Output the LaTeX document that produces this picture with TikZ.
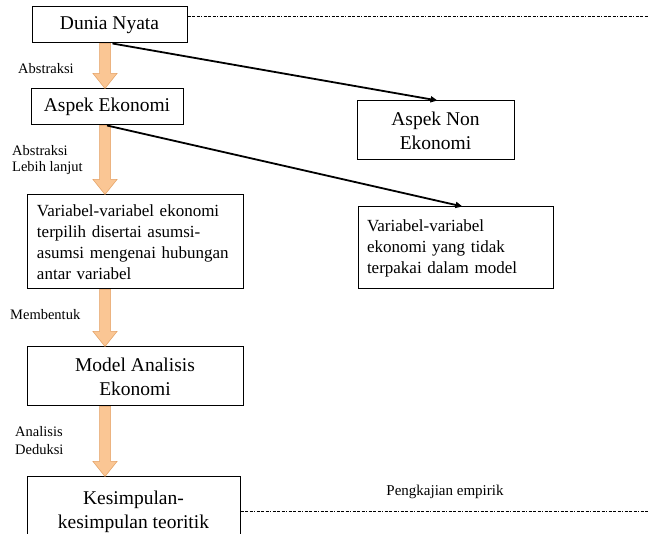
\documentclass[tikz,border=0pt]{standalone}
\usepackage{fontspec}
\setmainfont{Liberation Serif}
\usetikzlibrary{arrows.meta,calc}
\definecolor{peach}{RGB}{250,198,148}
\definecolor{peachedge}{RGB}{228,160,98}
\tikzset{
  box/.style={draw=black, line width=1pt, inner sep=0pt, align=center,
     font=\fontsize{19.5}{24}\selectfont},
  lbox/.style={draw=black, line width=1pt, inner xsep=10pt, inner ysep=0pt, align=left,
     font=\fontsize{17}{21}\selectfont},
  lbl/.style={anchor=west, inner sep=0pt, align=left, font=\fontsize{14.5}{16.5}\selectfont},
  blk/.style={line width=1.8pt, -{Triangle[length=7pt,width=6pt]}},
  dsh/.style={line width=1pt, dash pattern=on 3pt off 1.5pt on 3pt off 1.5pt on 3pt off 1.5pt on 1pt off 1.5pt},
  orng/.style={fill=peach, draw=peachedge, line width=0.5pt}
}
\newcommand{\blockarr}[2]{%
  \filldraw[orng] let \p1=(#1), \p2=(#2) in
    (\x1-5.5pt,\y1) -- (\x1+5.5pt,\y1) -- (\x1+5.5pt,\y2+15pt) -- (\x1+12pt,\y2+15pt)
    -- (\x1,\y2) -- (\x1-12pt,\y2+15pt) -- (\x1-5.5pt,\y2+15pt) -- cycle;}
\begin{document}
\begin{tikzpicture}[x=1pt,y=-1pt]
\clip (0,0) rectangle (649,534);
\fill[white] (0,0) rectangle (649,534);
% boxes
\node[box, minimum width=155pt, minimum height=36pt] (d1) at (109.5,25) {Dunia Nyata};
\node[box, minimum width=152pt, minimum height=36pt] (d2) at (107,107) {Aspek Ekonomi};
\node[box, minimum width=157pt, minimum height=59pt] (n1) at (435.5,130.5) {Aspek Non\\Ekonomi};
\node[lbox, minimum width=216pt, minimum height=94pt, text width=196pt] (d3) at (135,242)
  {Variabel-variabel ekonomi\\terpilih disertai asumsi-\\asumsi mengenai hubungan\\antar variabel};
\node[lbox, inner xsep=9pt, minimum width=195pt, minimum height=82pt, text width=177pt] (v2) at (455.5,248)
  {Variabel-variabel\\ekonomi yang tidak\\terpakai dalam model};
\node[box, minimum width=216pt, minimum height=59pt] (d4) at (135,376.5) {Model Analisis\\Ekonomi};
\node[box, minimum width=213pt, minimum height=70pt] (d5) at (133.5,512) {Kesimpulan-\\kesimpulan teoritik};
% arrow axis
\coordinate (ax) at (105,0);
\blockarr{ax |- d1.south}{ax |- d2.north}
\blockarr{ax |- d2.south}{ax |- d3.north}
\blockarr{ax |- d3.south}{ax |- d4.north}
\blockarr{ax |- d4.south}{ax |- d5.north}
% black arrows
\draw[blk] ([xshift=3pt]d1.south) -- ([xshift=2pt]n1.north);
\draw[blk] (d2.south) -- ([xshift=7pt]v2.north);
% dashed lines
\coordinate (t1) at (649,17);
\coordinate (t2) at (649,512);
\draw[dsh] (d1.east |- t1) -- (t1);
\draw[dsh] (d5.east |- t2) -- (t2);
% labels
\node[lbl] (l1) at (18,69) {Abstraksi};
\node[lbl] (l2) at (12,160) {Abstraksi\\Lebih lanjut};
\node[lbl] (l3) at (10,315) {Membentuk};
\node[lbl, font=\fontsize{14.5}{18}\selectfont] (l4) at (15,441) {Analisis\\Deduksi};
\node[inner sep=0pt, font=\fontsize{15}{17}\selectfont] (l5) at (445,492) {Pengkajian empirik};
\end{tikzpicture}
\end{document}
